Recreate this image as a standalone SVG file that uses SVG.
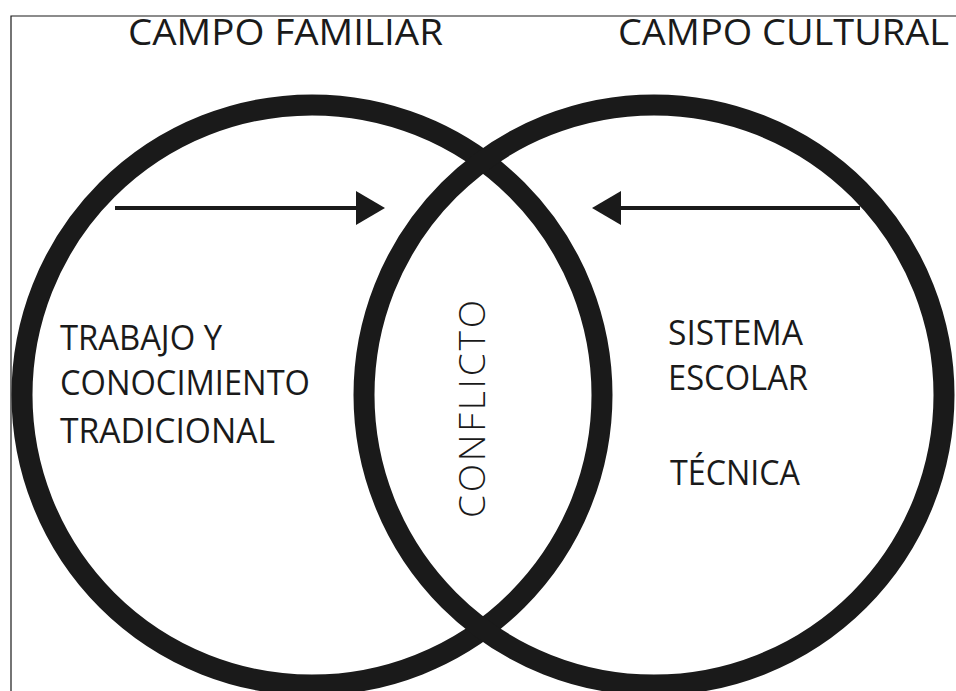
<svg xmlns="http://www.w3.org/2000/svg" width="956" height="691" viewBox="0 0 956 691">
<defs>
<style>
.ring{fill:none;stroke:#1a1a1a;stroke-width:21}
.t{font-family:"Open Sans","Liberation Sans",sans-serif;fill:#1a1a1a}
.title{font-size:36px}
.lbl{font-size:35px}
.arr{stroke:#1a1a1a;stroke-width:4;fill:none}
</style>
<marker id="ah" markerWidth="30" markerHeight="34" refX="0" refY="17" orient="auto" markerUnits="userSpaceOnUse">
<path d="M0,0 L29,17 L0,34 Z" fill="#1a1a1a"/>
</marker>
</defs>
<rect width="956" height="691" fill="#ffffff"/>
<path d="M11,691 V16 H956" fill="none" stroke="#1a1a1a" stroke-width="1.2"/>
<g id="campo-familiar">
<circle class="ring" cx="312" cy="395" r="290"/>
<text class="t title" x="128" y="45" textLength="315" lengthAdjust="spacingAndGlyphs">CAMPO FAMILIAR</text>
<text class="t lbl" x="60" y="350" textLength="162" lengthAdjust="spacingAndGlyphs">TRABAJO Y</text>
<text class="t lbl" x="60" y="395" textLength="250" lengthAdjust="spacingAndGlyphs">CONOCIMIENTO</text>
<text class="t lbl" x="60" y="443" textLength="215" lengthAdjust="spacingAndGlyphs">TRADICIONAL</text>
</g>
<g id="campo-cultural">
<circle class="ring" cx="654" cy="395" r="290"/>
<text class="t title" x="618" y="45" textLength="331" lengthAdjust="spacingAndGlyphs">CAMPO CULTURAL</text>
<text class="t lbl" x="668" y="345" textLength="135" lengthAdjust="spacingAndGlyphs">SISTEMA</text>
<text class="t lbl" x="668" y="390" textLength="140" lengthAdjust="spacingAndGlyphs">ESCOLAR</text>
<text class="t lbl" x="670" y="485" textLength="130" lengthAdjust="spacingAndGlyphs">TÉCNICA</text>
</g>
<g id="conflicto">
<text class="t" font-size="37" font-weight="300" letter-spacing="7" transform="translate(485,518) rotate(-90)" x="0" y="0" textLength="225">CONFLICTO</text>
</g>
<g id="connectors">
<line class="arr" x1="115" y1="208" x2="356" y2="208" marker-end="url(#ah)"/>
<line class="arr" x1="860" y1="208" x2="621" y2="208" marker-end="url(#ah)"/>
</g>
</svg>
